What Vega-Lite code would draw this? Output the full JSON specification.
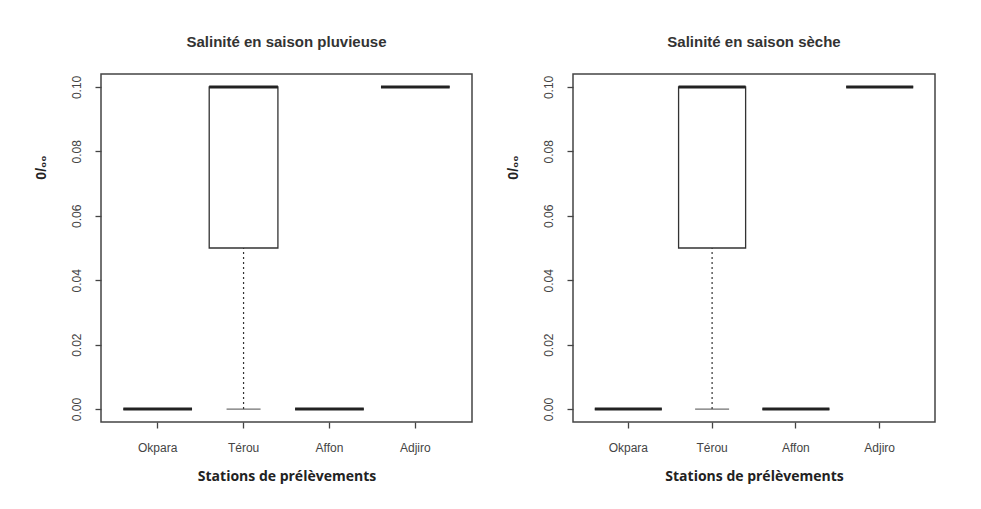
{
  "$schema": "https://vega.github.io/schema/vega-lite/v6.json",
  "background": "white",
  "padding": {"left": 33, "top": 34, "right": 5, "bottom": 5},
  "spacing": 32,
  "datasets": {
    "salinite": [
      {"saison": "pluvieuse", "station": "Okpara", "min": 0, "q1": 0, "median": 0, "q3": 0, "max": 0},
      {"saison": "pluvieuse", "station": "Térou", "min": 0, "q1": 0.05, "median": 0.1, "q3": 0.1, "max": 0.1},
      {"saison": "pluvieuse", "station": "Affon", "min": 0, "q1": 0, "median": 0, "q3": 0, "max": 0},
      {"saison": "pluvieuse", "station": "Adjiro", "min": 0.1, "q1": 0.1, "median": 0.1, "q3": 0.1, "max": 0.1},
      {"saison": "sèche", "station": "Okpara", "min": 0, "q1": 0, "median": 0, "q3": 0, "max": 0},
      {"saison": "sèche", "station": "Térou", "min": 0, "q1": 0.05, "median": 0.1, "q3": 0.1, "max": 0.1},
      {"saison": "sèche", "station": "Affon", "min": 0, "q1": 0, "median": 0, "q3": 0, "max": 0},
      {"saison": "sèche", "station": "Adjiro", "min": 0.1, "q1": 0.1, "median": 0.1, "q3": 0.1, "max": 0.1}
    ]
  },
  "config": {
    "font": "Liberation Sans",
    "view": {"stroke": "#444", "strokeWidth": 1.5},
    "title": {"font": "Liberation Sans", "fontSize": 15, "fontWeight": "bold", "color": "#333", "anchor": "middle", "offset": 24},
    "axis": {
      "domain": false,
      "grid": false,
      "tickColor": "#444",
      "tickSize": 6,
      "tickWidth": 1.3,
      "labelColor": "#444",
      "labelFontSize": 12,
      "labelFont": "Liberation Sans"
    }
  },
  "hconcat": [
    {
      "width": 371,
      "height": 348,
      "title": "Salinité en saison pluvieuse",
      "data": {"name": "salinite"},
      "transform": [{"filter": "datum.saison === 'pluvieuse'"}],
      "encoding": {
        "x": {
          "field": "station", "type": "nominal",
          "sort": ["Okpara", "Térou", "Affon", "Adjiro"],
          "scale": {"type": "band", "paddingInner": 0.2, "paddingOuter": 0.26},
          "axis": {"labelAngle": 0, "labelPadding": 14, "title": "Stations de prélèvements", "titleFont": "Open Sans", "titleFontSize": 14, "titleFontWeight": "bold", "titleColor": "#222", "titlePadding": 16}
        }
      },
      "layer": [
        {
          "mark": {"type": "rule", "strokeDash": [2, 3], "stroke": "#333", "strokeWidth": 1.2},
          "encoding": {
            "y": {"field": "min", "type": "quantitative", "scale": {"domain": [-0.004, 0.104], "nice": false, "zero": false},
              "axis": {"values": [0, 0.02, 0.04, 0.06, 0.08, 0.1], "format": ".2f", "labelAngle": 270, "labelAlign": "center", "labelBaseline": "bottom", "labelPadding": 12, "title": "0/₀₀", "titleFont": "Liberation Sans", "titleFontSize": 14, "titleFontWeight": "bold", "titleColor": "#222", "titleAngle": 270, "titleX": -60, "titleY": 93, "titleBaseline": "middle"}},
            "y2": {"field": "q1"}
          }
        },
        {
          "mark": {"type": "tick", "orient": "horizontal", "size": 34, "thickness": 1.3, "color": "#333"},
          "encoding": {"y": {"field": "min", "type": "quantitative"}}
        },
        {
          "mark": {"type": "rect", "fill": "white", "stroke": "#333", "strokeWidth": 1.3},
          "encoding": {"y": {"field": "q1", "type": "quantitative"}, "y2": {"field": "q3"}}
        },
        {
          "mark": {"type": "rect", "fill": "#222", "stroke": "#222", "strokeWidth": 3},
          "encoding": {"y": {"field": "median", "type": "quantitative"}, "y2": {"field": "median"}}
        }
      ]
    },
    {
      "width": 362,
      "height": 348,
      "title": "Salinité en saison sèche",
      "data": {"name": "salinite"},
      "transform": [{"filter": "datum.saison === 'sèche'"}],
      "encoding": {
        "x": {
          "field": "station", "type": "nominal",
          "sort": ["Okpara", "Térou", "Affon", "Adjiro"],
          "scale": {"type": "band", "paddingInner": 0.2, "paddingOuter": 0.26},
          "axis": {"labelAngle": 0, "labelPadding": 14, "title": "Stations de prélèvements", "titleFont": "Open Sans", "titleFontSize": 14, "titleFontWeight": "bold", "titleColor": "#222", "titlePadding": 16}
        }
      },
      "layer": [
        {
          "mark": {"type": "rule", "strokeDash": [2, 3], "stroke": "#333", "strokeWidth": 1.2},
          "encoding": {
            "y": {"field": "min", "type": "quantitative", "scale": {"domain": [-0.004, 0.104], "nice": false, "zero": false},
              "axis": {"values": [0, 0.02, 0.04, 0.06, 0.08, 0.1], "format": ".2f", "labelAngle": 270, "labelAlign": "center", "labelBaseline": "bottom", "labelPadding": 12, "title": "0/₀₀", "titleFont": "Liberation Sans", "titleFontSize": 14, "titleFontWeight": "bold", "titleColor": "#222", "titleAngle": 270, "titleX": -60, "titleY": 93, "titleBaseline": "middle"}},
            "y2": {"field": "q1"}
          }
        },
        {
          "mark": {"type": "tick", "orient": "horizontal", "size": 34, "thickness": 1.3, "color": "#333"},
          "encoding": {"y": {"field": "min", "type": "quantitative"}}
        },
        {
          "mark": {"type": "rect", "fill": "white", "stroke": "#333", "strokeWidth": 1.3},
          "encoding": {"y": {"field": "q1", "type": "quantitative"}, "y2": {"field": "q3"}}
        },
        {
          "mark": {"type": "rect", "fill": "#222", "stroke": "#222", "strokeWidth": 3},
          "encoding": {"y": {"field": "median", "type": "quantitative"}, "y2": {"field": "median"}}
        }
      ]
    }
  ]
}
